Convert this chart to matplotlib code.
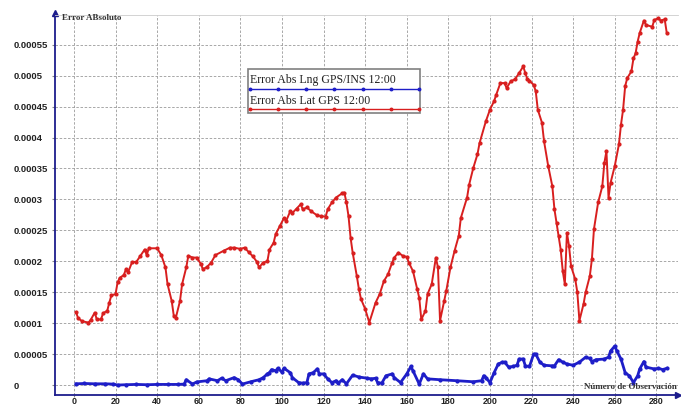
import matplotlib.pyplot as plt
import numpy as np

# Error Abs Lat GPS 12:00 (red) -- observation number, error in units of 1e-5
lat_obs = [1, 2, 4, 7, 8, 10, 11, 13, 14, 16, 17, 18, 20, 21, 22, 24, 25, 26, 28, 30,
           32, 34, 35, 36, 40, 42, 44, 45, 47, 48, 49, 51, 52, 54, 55, 57, 59, 61, 62, 64,
           66, 68, 72, 75, 77, 80, 82, 84, 86, 88, 89, 91, 93, 94, 96, 97, 99, 101, 102, 104,
           105, 107, 109, 110, 112, 114, 117, 119, 121, 122, 124, 126, 129, 130, 131, 132, 133, 134, 136, 137,
           138, 140, 142, 145, 147, 149, 151, 153, 154, 156, 158, 160, 161, 163, 165, 166, 167, 169, 170, 172,
           174, 175, 176, 178, 179, 181, 183, 185, 186, 189, 190, 192, 194, 195, 198, 200, 202, 203, 205, 207,
           208, 210, 212, 214, 216, 217, 218, 219, 221, 222, 223, 225, 226, 228, 230, 231, 232, 233, 234, 235,
           236, 237, 238, 239, 241, 242, 243, 245, 246, 248, 249, 250, 252, 254, 255, 256, 257, 258, 260, 262,
           263, 264, 265, 266, 268, 269, 270, 271, 272, 274, 275, 278, 279, 281, 282, 284, 285]
lat_err = [11.8, 10.8, 10.3, 10.1, 10.5, 11.7, 10.6, 10.6, 11.6, 12.0, 13.3, 14.5, 14.7, 16.6, 17.3, 17.8, 18.7, 18.2, 19.9, 19.9,
           20.9, 21.9, 21.0, 22.1, 22.1, 21.0, 19.0, 16.3, 13.6, 11.2, 10.9, 13.6, 16.3, 19.0, 20.9, 20.6, 20.6, 19.6, 18.7, 19.1,
           19.8, 21.0, 21.7, 22.2, 22.2, 22.0, 22.2, 21.5, 20.8, 19.9, 19.0, 19.8, 20.0, 21.9, 23.0, 24.4, 25.7, 27.0, 26.5, 28.1,
           27.8, 28.5, 29.2, 28.4, 28.7, 28.1, 27.4, 27.3, 27.2, 28.4, 29.5, 30.3, 31.0, 31.1, 29.5, 27.3, 23.8, 21.4, 17.6, 15.5,
           13.9, 12.3, 10.1, 13.3, 14.7, 16.8, 17.9, 19.8, 20.6, 21.4, 20.9, 20.7, 19.8, 18.4, 15.5, 14.1, 10.6, 12.0, 14.7, 16.3,
           20.6, 19.0, 10.4, 13.6, 15.2, 19.0, 21.7, 24.1, 27.0, 30.3, 32.4, 35.1, 37.3, 39.1, 42.6, 44.5, 45.9, 46.9, 48.8, 48.8,
           48.0, 49.1, 49.4, 50.4, 51.5, 50.4, 49.4, 49.2, 48.5, 47.5, 44.5, 42.4, 39.4, 35.4, 32.1, 28.4, 26.2, 24.1, 21.9, 18.4,
           16.3, 24.6, 22.5, 19.2, 17.1, 15.0, 10.4, 13.1, 15.0, 17.6, 20.3, 25.2, 29.5, 32.1, 35.9, 37.8, 30.3, 32.7, 35.4, 38.9,
           42.1, 44.5, 48.3, 49.6, 50.7, 52.8, 53.6, 55.5, 56.9, 58.9, 58.2, 57.9, 59.0, 59.3, 58.9, 59.1, 56.9]

# Error Abs Lng GPS/INS 12:00 (blue)
lng_obs = [1, 5, 10, 15, 19, 21, 25, 30, 35, 40, 45, 50, 53, 54, 57, 59, 64, 65, 69, 71,
           73, 77, 79, 81, 85, 89, 91, 93, 94, 95, 97, 98, 100, 101, 104, 105, 108, 110, 112, 113,
           115, 117, 118, 120, 122, 124, 126, 127, 129, 131, 134, 137, 141, 143, 145, 146, 148, 150, 153, 154,
           157, 160, 162, 163, 166, 168, 170, 176, 184, 192, 196, 197, 198, 200, 202, 204, 206, 207, 209, 211,
           213, 214, 216, 217, 219, 221, 222, 224, 226, 230, 231, 233, 235, 237, 240, 243, 246, 248, 249, 251,
           255, 257, 258, 260, 261, 263, 265, 267, 269, 271, 272, 274, 275, 279, 281, 283, 285]
lng_err = [0.2, 0.25, 0.2, 0.2, 0.15, 0.0, 0.05, 0.1, 0.05, 0.1, 0.1, 0.1, 0.15, 0.86, 0.16, 0.5, 0.7, 1.0, 0.7, 1.1,
           0.7, 1.2, 0.86, 0.16, 0.53, 0.86, 1.2, 1.8, 2.0, 2.5, 2.3, 2.7, 2.1, 2.7, 2.0, 1.2, 0.4, 0.3, 0.4, 1.8,
           2.0, 2.6, 1.8, 1.8, 1.0, 0.4, 0.7, 0.3, 0.86, 0.2, 1.6, 1.3, 1.1, 1.0, 1.1, 0.4, 0.3, 1.5, 1.8, 1.2,
           0.4, 1.8, 3.0, 2.3, 0.16, 1.8, 1.0, 0.86, 0.7, 0.53, 0.7, 1.5, 1.2, 0.4, 2.0, 3.4, 3.7, 3.7, 2.9, 3.0,
           3.2, 4.2, 4.2, 3.1, 3.0, 5.0, 5.0, 3.7, 3.2, 3.1, 3.1, 4.1, 3.7, 3.4, 3.2, 3.7, 4.5, 4.3, 3.8, 4.1,
           4.2, 4.5, 5.5, 6.3, 5.5, 4.2, 2.0, 1.5, 0.4, 1.5, 2.6, 3.8, 2.9, 2.6, 2.7, 2.5, 2.7]

x_ticks = list(range(0, 281, 20))
y_ticks = [i * 5e-5 for i in range(12)]
y_labels = ['0', '0.00005', '0.0001', '0.00015', '0.0002', '0.00025', '0.0003',
            '0.00035', '0.0004', '0.00045', '0.0005', '0.00055']

RED = '#d81f1f'
BLUE = '#1e1ec8'
NAVY = '#1c1c8c'

fig = plt.figure(figsize=(6.81, 4.08), dpi=100)
ax = fig.add_axes([55 / 681, 13 / 408, 623 / 681, 380 / 408])

ax.plot(lng_obs, np.array(lng_err) * 1e-5, color=BLUE, lw=2.0, marker='o', ms=2.0, zorder=3)
ax.plot(lat_obs, np.array(lat_err) * 1e-5, color=RED, lw=1.4, marker='o', ms=2.0, zorder=3)

ax.set_xlim(-9.1, 290.4)
ax.set_ylim(-1.61e-5, 59.8e-5)
ax.set_xticks(x_ticks)
ax.set_yticks(y_ticks)
ax.set_yticklabels(y_labels, ha='left')
ax.grid(True, linestyle=(0, (3, 2)), color='#9a9a9a', linewidth=0.6)
ax.set_axisbelow(True)

ax.tick_params(axis='y', length=2, color='#888888', pad=27.5, labelsize=6.8, labelcolor='#222222')
ax.tick_params(axis='x', length=1.5, color='#888888', pad=0.3, labelsize=6.4, labelcolor='#222222')
for lab in ax.get_xticklabels() + ax.get_yticklabels():
    lab.set_family('Liberation Sans')
    lab.set_weight('bold')

for s in ['left', 'bottom']:
    ax.spines[s].set_color(NAVY)
    ax.spines[s].set_linewidth(1.3)
ax.spines['right'].set_visible(False)
ax.spines['top'].set_color('#cccccc')
ax.spines['top'].set_linewidth(0.6)

# axis arrows
ax.plot([0], [1.005], marker='^', color=NAVY, ms=4, transform=ax.transAxes, clip_on=False)
ax.plot([1.0], [0], marker='>', color=NAVY, ms=4, transform=ax.transAxes, clip_on=False)

ax.text(0.011, 0.992, 'Error ABsoluto', transform=ax.transAxes, ha='left', va='center',
        family='Liberation Serif', weight='bold', fontsize=6.5, color='#333333')
ax.text(0.998, 0.021, 'Número de Observación', transform=ax.transAxes, ha='right', va='center',
        family='Liberation Serif', weight='bold', fontsize=6.5, color='#333333')

# legend drawn by hand: text above each line sample
box = plt.Rectangle((0.310, 0.743), 0.276, 0.115, transform=ax.transAxes,
                    fc='white', ec='#808080', lw=1.2, zorder=5)
ax.add_patch(box)
ax.text(0.313, 0.829, 'Error Abs Lng GPS/INS 12:00', transform=ax.transAxes, ha='left', va='center',
        family='Liberation Serif', fontsize=8.6, color='#222222', zorder=6)
ax.text(0.313, 0.774, 'Error Abs Lat GPS 12:00', transform=ax.transAxes, ha='left', va='center',
        family='Liberation Serif', fontsize=8.6, color='#222222', zorder=6)
lx = np.linspace(0.313, 0.584, 7)
ax.plot(lx, [0.806] * len(lx), color=BLUE, lw=1.0, marker='o', ms=1.8, transform=ax.transAxes, zorder=6)
ax.plot(lx, [0.752] * len(lx), color=RED, lw=1.0, marker='o', ms=1.8, transform=ax.transAxes, zorder=6)

fig.savefig('out.png', dpi=100)
